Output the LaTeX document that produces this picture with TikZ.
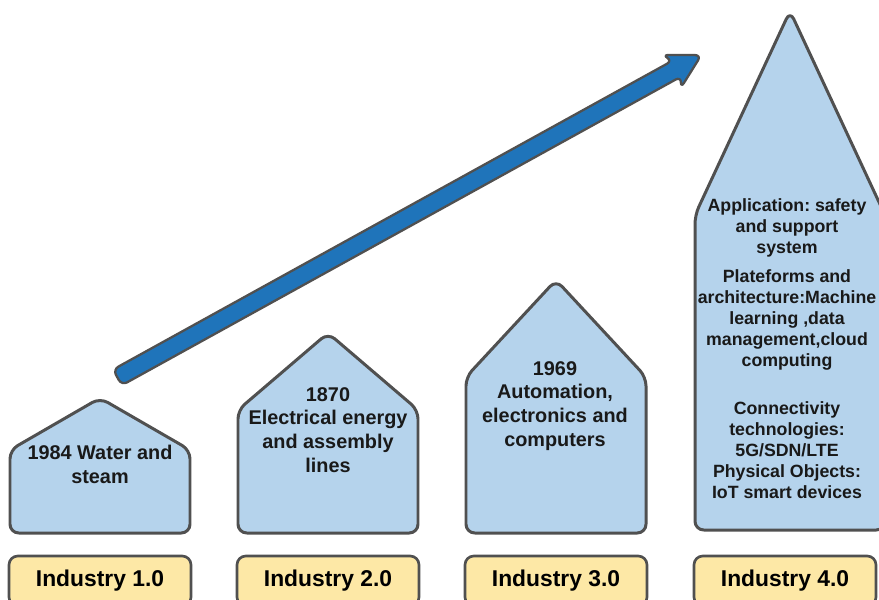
\documentclass[tikz,border=0pt]{standalone}
\usepackage{fontspec}
\setmainfont{Liberation Sans}
\frenchspacing
\usepackage{tikz}
\usetikzlibrary{arrows.meta, positioning}
\definecolor{houseblue}{HTML}{B5D3EC}
\definecolor{tagyellow}{HTML}{FDE8A6}
\definecolor{arrowblue}{HTML}{1F74BA}
\definecolor{edgegray}{HTML}{505050}

\begin{document}
\begin{tikzpicture}[x=0.02cm, y=-0.02cm, line join=round,
  house/.style={draw=edgegray, fill=houseblue, line width=1.7pt, rounded corners=5pt},
  tag/.style={draw=edgegray, fill=tagyellow, line width=1.5pt, rounded corners=5pt,
    minimum width=3.64cm, minimum height=1cm, inner sep=0pt,
    font=\fontsize{13}{15}\selectfont\bfseries},
  housetext/.style={align=center, inner sep=0pt, text=black!90,
    font=\fontsize{11.3}{13.6}\selectfont\bfseries},
  smalltext/.style={align=center, inner sep=0pt, text=black!90,
    font=\fontsize{10.1}{11.9}\selectfont\bfseries}]
  \clip (0,0) rectangle (879,599);

  % Houses
  \draw[house] (10,533) -- (10,450) -- (100,398) -- (190,450) -- (190,533) -- cycle;
  \draw[house] (238,533) -- (238,410) -- (328,333) -- (418,410) -- (418,533) -- cycle;
  \draw[house] (466,533) -- (466,377) -- (556,280) -- (646,377) -- (646,533) -- cycle;
  \draw[house] (695,530) -- (695,215) -- (790,11) -- (885,215) -- (885,530) -- cycle;

  % Rising arrow
  \coordinate (tail) at (120,376);
  \coordinate (tip) at (701,55);
  \begin{scope}[shift={(tail)}, rotate=28.9]
    \draw[draw=edgegray, fill=arrowblue, line width=1.3pt, rounded corners=3.5pt]
      (-3,-9) -- (636,-9) -- (630,-19) -- (664,0) -- (630,19) -- (636,9) -- (-3,9) -- cycle;
  \end{scope}

  % House texts
  \node[housetext] (t1) at (100,464) {1984 Water and\\steam};
  \node[housetext] (t2) at (328,430) {1870\\Electrical energy\\and assembly\\lines};
  \node[housetext] (t3) at (555,406) {1969\\Automation,\\electronics and\\computers};
  \node[smalltext] (app) at (787,228) {Application: safety\\and support\\system};
  \node[smalltext] (plat) at (787,320) {Plateforms and\\architecture:Machine\\learning ,data\\management,cloud\\computing};
  \node[smalltext] (conn) at (787,450) {Connectivity\\technologies:\\5G/SDN/LTE\\Physical Objects:\\IoT smart devices};

  % Labels
  \node[tag] (i1) at (100,581) {Industry 1.0};
  \node[tag] (i2) at (328,581) {Industry 2.0};
  \node[tag] (i3) at (556,581) {Industry 3.0};
  \node[tag] (i4) at (785,581) {Industry 4.0};
\end{tikzpicture}
\end{document}
